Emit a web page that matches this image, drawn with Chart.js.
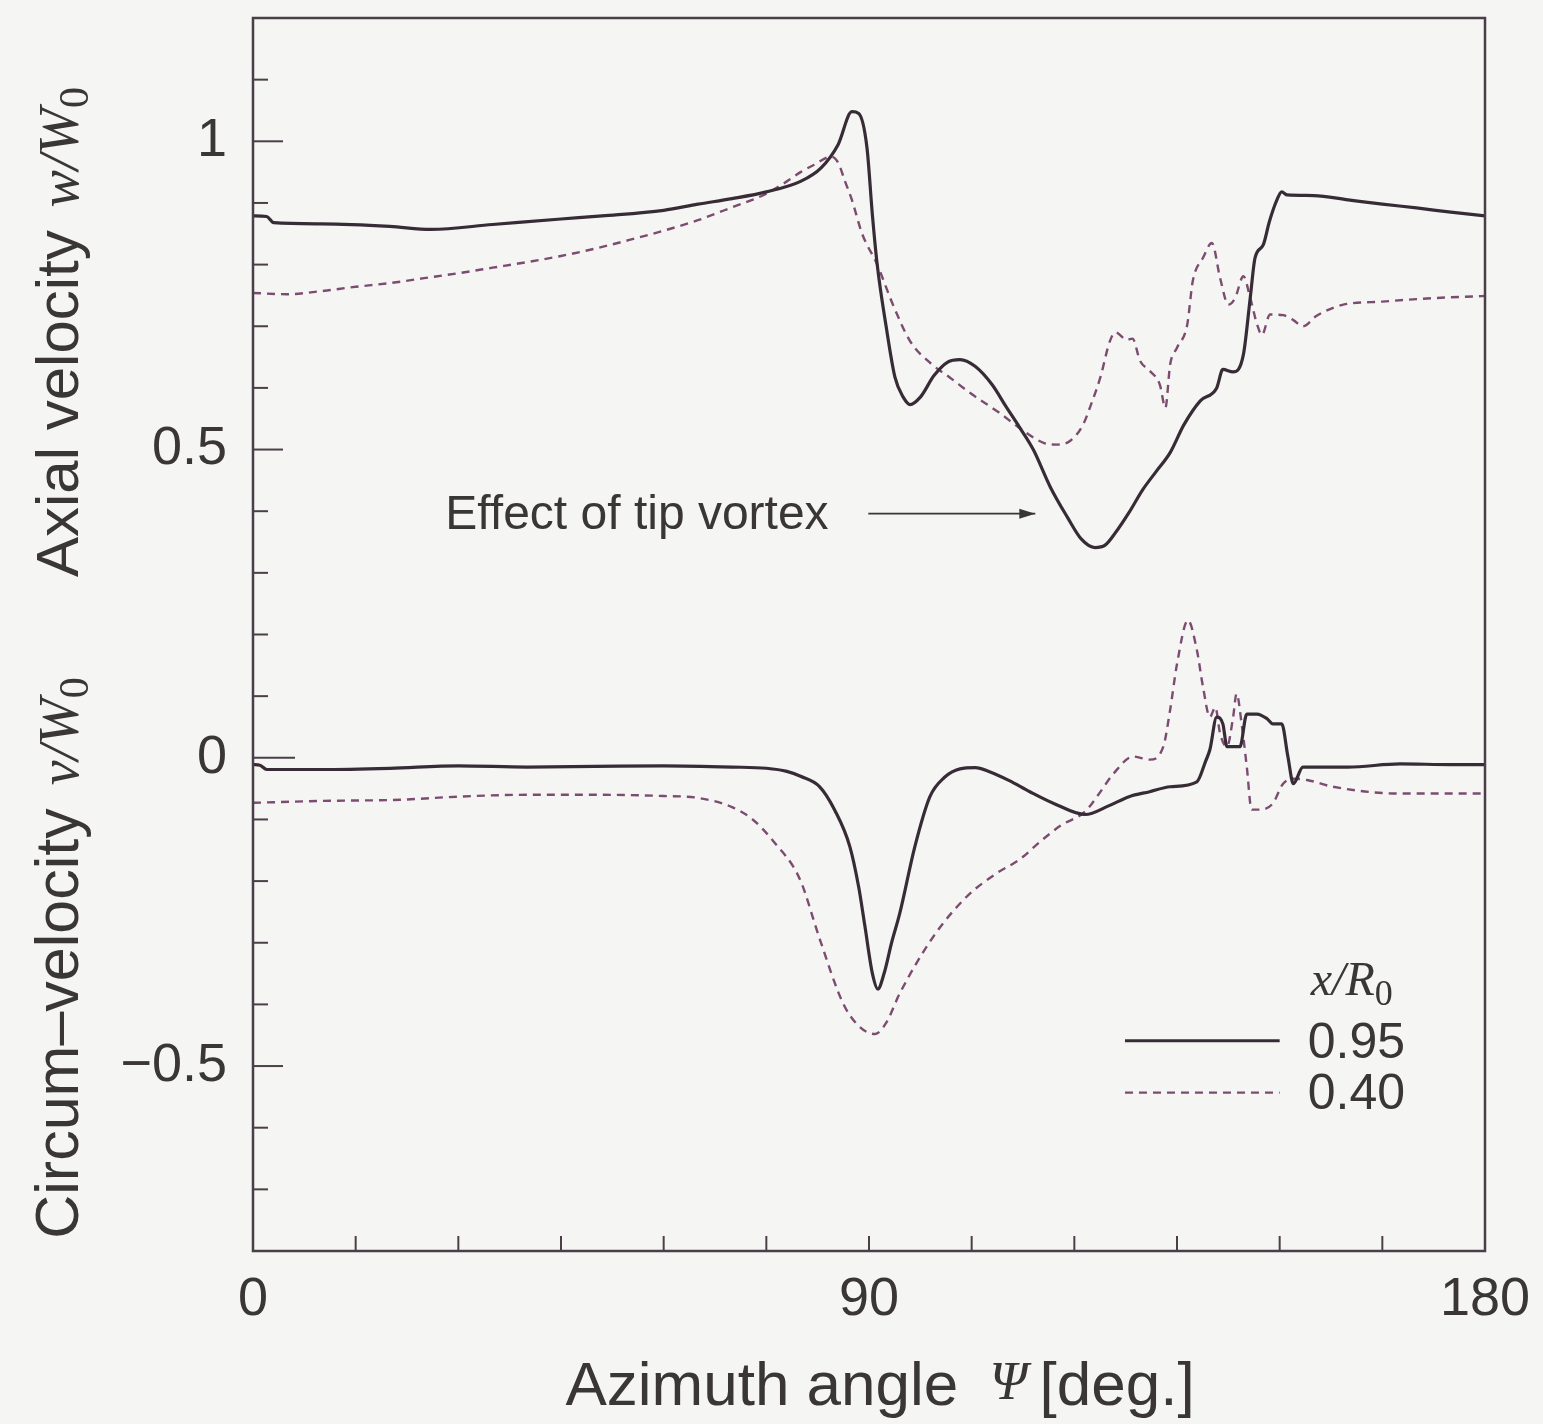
<!DOCTYPE html>
<html>
<head>
    <title>Axial and circumferential velocity vs azimuth</title>
    <script src="https://cdn.jsdelivr.net/npm/chart.js"></script>
    <style>
        html, body { margin: 0; padding: 0; background: #f5f5f3; }
        canvas { display: block; }
    </style>
</head>
<body>
    <canvas id="velChart" width="1543" height="1424"></canvas>

    <script>
        // x/R0 = 0.95 (solid) and 0.40 (dashed)
        const axialPsi95 = [0, 2, 3, 10, 20, 26, 35, 45, 51, 60, 65, 70, 75, 80, 83, 85.5, 87.5, 88.5, 89.7, 90.5, 91.2, 92.5, 93.8, 95, 96, 97.5, 99.5, 101.5, 103.3, 105.5, 108, 110, 112, 114, 116.5, 119, 121, 123, 124.5, 126, 128, 130, 132, 134, 136, 138.4, 140.8, 141.7, 143.2, 144.7, 145.7, 146.4, 147.6, 148.5, 149.6, 150.3, 151.1, 155, 160, 165, 170, 175, 180];
        const axial95 = [0.879, 0.878, 0.868, 0.866, 0.862, 0.857, 0.865, 0.874, 0.879, 0.888, 0.898, 0.907, 0.918, 0.935, 0.957, 0.995, 1.048, 1.045, 0.99, 0.88, 0.80, 0.70, 0.617, 0.585, 0.573, 0.585, 0.62, 0.642, 0.646, 0.635, 0.605, 0.57, 0.536, 0.50, 0.439, 0.39, 0.355, 0.341, 0.345, 0.365, 0.398, 0.435, 0.465, 0.495, 0.54, 0.579, 0.600, 0.630, 0.626, 0.654, 0.746, 0.811, 0.832, 0.87, 0.905, 0.918, 0.913, 0.912, 0.905, 0.898, 0.892, 0.885, 0.879];

        const axialPsi40 = [0, 5, 10, 15, 20, 25, 30, 35, 40, 45, 50, 55, 60, 65, 70, 75, 78, 80, 82, 84.5, 85.5, 86.5, 87.5, 89, 91.2, 93.5, 96, 99, 101.8, 105, 109, 112, 115.5, 117.5, 119.5, 121.3, 122.5, 123.8, 125.2, 126, 127.7, 128.5, 129.6, 131, 132.5, 133.3, 134, 135, 136.5, 137.3, 138.8, 140.1, 141.3, 142.5, 143.5, 144.7, 145.7, 146.7, 147.4, 148.6, 150.5, 152, 153.4, 155.4, 159.3, 165, 170, 175, 180];
        const axial40 = [0.754, 0.752, 0.757, 0.764, 0.770, 0.778, 0.786, 0.795, 0.804, 0.814, 0.826, 0.840, 0.855, 0.872, 0.893, 0.915, 0.935, 0.950, 0.962, 0.975, 0.965, 0.935, 0.905, 0.85, 0.80, 0.735, 0.676, 0.64, 0.617, 0.59, 0.56, 0.535, 0.511, 0.508, 0.515, 0.541, 0.575, 0.617, 0.676, 0.69, 0.678, 0.68, 0.644, 0.628, 0.605, 0.568, 0.638, 0.665, 0.703, 0.773, 0.811, 0.835, 0.778, 0.735, 0.746, 0.781, 0.746, 0.703, 0.686, 0.719, 0.718, 0.71, 0.700, 0.717, 0.735, 0.74, 0.744, 0.747, 0.749];

        const circPsi95 = [0, 1, 2, 10, 20, 30, 40, 50, 60, 70, 75, 78, 80, 82.8, 85, 87.2, 88.5, 89.4, 90.5, 91.3, 92.2, 93.3, 94.5, 96.7, 98.9, 101, 103.3, 105.5, 107.7, 110.5, 113.5, 117, 121.6, 125, 128, 131, 134, 137.9, 139.2, 139.8, 140.8, 141.7, 142.3, 144.2, 145.2, 146.7, 148.2, 149, 150.3, 151.2, 152, 153.4, 160, 167.6, 175, 180];
        const circ95 = [-0.011, -0.012, -0.019, -0.019, -0.017, -0.013, -0.015, -0.014, -0.013, -0.015, -0.017, -0.022, -0.03, -0.047, -0.085, -0.144, -0.21, -0.273, -0.35, -0.375, -0.35, -0.30, -0.252, -0.144, -0.063, -0.032, -0.018, -0.016, -0.023, -0.037, -0.055, -0.074, -0.092, -0.078, -0.063, -0.055, -0.047, -0.039, -0.005, 0.013, 0.066, 0.055, 0.018, 0.018, 0.071, 0.071, 0.063, 0.055, 0.055, 0.002, -0.042, -0.015, -0.015, -0.010, -0.011, -0.011];

        const circPsi40 = [0, 10, 21.5, 30, 40, 50, 60, 65, 70, 73, 76, 79.9, 82.8, 86.2, 88.5, 90.9, 92.5, 94.5, 99.4, 104.3, 108.7, 112, 115, 118, 121.6, 123.5, 125.7, 128.6, 131, 133, 134, 135, 136.6, 137.9, 138.8, 139.8, 140.6, 141.3, 142.3, 143.2, 143.7, 144.5, 145.2, 145.9, 147.1, 149, 150.5, 152, 154, 157.8, 167.6, 180];
        const circ40 = [-0.073, -0.070, -0.068, -0.063, -0.060, -0.060, -0.062, -0.065, -0.08, -0.10, -0.135, -0.197, -0.294, -0.398, -0.435, -0.448, -0.43, -0.382, -0.29, -0.225, -0.187, -0.165, -0.136, -0.11, -0.087, -0.06, -0.026, 0.002, -0.003, 0.018, 0.078, 0.152, 0.223, 0.175, 0.115, 0.066, 0.082, 0.039, 0.018, 0.066, 0.104, 0.05, -0.015, -0.084, -0.084, -0.074, -0.042, -0.034, -0.036, -0.047, -0.058, -0.058];

        const xLabelTicks = [0, 90, 180];
        const yLabelTicks = [1, 0.5, 0, -0.5];
        const legendLabels = ['0.95', '0.40'];

        const solidColor = '#372c35';
        const dashColor = '#7c4c70';
        const inkColor = '#3a3638';
        const frameColor = '#4a3f48';
        const sans = '"Liberation Sans", Arial, sans-serif';
        const serif = '"Liberation Serif", "DejaVu Serif", serif';

        function pts(xs, ys) {
            return xs.map((x, i) => ({ x: x, y: ys[i] }));
        }

        function near(v, list) {
            return list.some(t => Math.abs(v - t) < 1e-6);
        }

        // draws a run of differently styled text pieces, centred on (x, y)
        function drawRich(ctx, parts, x, y, angle) {
            ctx.save();
            ctx.translate(x, y);
            ctx.rotate(angle || 0);
            ctx.textBaseline = 'alphabetic';
            ctx.textAlign = 'left';
            let total = 0;
            parts.forEach(p => { ctx.font = p.font; total += ctx.measureText(p.t).width + (p.gap || 0); });
            let cx = -total / 2;
            parts.forEach(p => {
                ctx.font = p.font;
                ctx.fillStyle = inkColor;
                ctx.fillText(p.t, cx, p.dy || 0);
                cx += ctx.measureText(p.t).width + (p.gap || 0);
            });
            ctx.restore();
        }

        const decorations = {
            id: 'decorations',
            afterDraw(chart) {
                const c = chart.ctx;
                const a = chart.chartArea;
                const xs = chart.scales.x;
                const ys = chart.scales.y;

                c.save();
                // frame
                c.strokeStyle = frameColor;
                c.lineWidth = 2.5;
                c.strokeRect(a.left, a.top, a.right - a.left, a.bottom - a.top);

                // inward ticks
                c.lineWidth = 2;
                ys.ticks.forEach(t => {
                    const v = t.value;
                    if (near(v, [1.2, -0.8])) return;
                    let len = 15;
                    if (near(v, [0])) len = 42;
                    else if (near(v, yLabelTicks)) len = 30;
                    const py = ys.getPixelForValue(v);
                    c.beginPath();
                    c.moveTo(a.left, py);
                    c.lineTo(a.left + len, py);
                    c.stroke();
                });
                xs.ticks.forEach(t => {
                    if (near(t.value, [0, 180])) return;
                    const px = xs.getPixelForValue(t.value);
                    c.beginPath();
                    c.moveTo(px, a.bottom);
                    c.lineTo(px, a.bottom - 15);
                    c.stroke();
                });

                // annotation with arrow
                c.fillStyle = inkColor;
                c.font = '48px ' + sans;
                c.textAlign = 'center';
                c.textBaseline = 'middle';
                c.fillText('Effect of tip vortex', xs.getPixelForValue(56.1), ys.getPixelForValue(0.392));
                const ax0 = xs.getPixelForValue(89.9), ax1 = xs.getPixelForValue(114.3);
                const ay = ys.getPixelForValue(0.396);
                c.strokeStyle = inkColor;
                c.lineWidth = 1.6;
                c.beginPath();
                c.moveTo(ax0, ay);
                c.lineTo(ax1, ay);
                c.stroke();
                c.beginPath();
                c.moveTo(ax1, ay);
                c.lineTo(ax1 - 16, ay - 5);
                c.lineTo(ax1 - 16, ay + 5);
                c.closePath();
                c.fill();

                // legend
                const lx0 = xs.getPixelForValue(127.4), lx1 = xs.getPixelForValue(150.0);
                const tx = xs.getPixelForValue(154.1);
                drawRich(c, [
                    { t: 'x', font: 'italic 48px ' + serif },
                    { t: '/', font: 'italic 48px ' + serif },
                    { t: 'R', font: 'italic 48px ' + serif },
                    { t: '0', font: '36px ' + serif, dy: 10 }
                ], tx + 44, ys.getPixelForValue(-0.362) + 14, 0);
                const rows = [
                    { v: -0.459, color: solidColor, w: 3, dash: [] },
                    { v: -0.543, color: dashColor, w: 2.2, dash: [8, 6] }
                ];
                rows.forEach((r, i) => {
                    const py = ys.getPixelForValue(r.v);
                    c.strokeStyle = r.color;
                    c.lineWidth = r.w;
                    c.setLineDash(r.dash);
                    c.beginPath();
                    c.moveTo(lx0, py);
                    c.lineTo(lx1, py);
                    c.stroke();
                    c.setLineDash([]);
                    c.fillStyle = inkColor;
                    c.font = '50px ' + sans;
                    c.textAlign = 'left';
                    c.textBaseline = 'middle';
                    c.fillText(legendLabels[i], tx, py + 3);
                });

                // axis titles
                drawRich(c, [
                    { t: 'Azimuth angle ', font: '62px ' + sans, gap: 14 },
                    { t: 'Ψ', font: 'italic 54px ' + serif, dy: -6, gap: 12 },
                    { t: '[deg.]', font: '62px ' + sans }
                ], 880, 1405, 0);
                drawRich(c, [
                    { t: 'Axial velocity ', font: '60px ' + sans, gap: 6 },
                    { t: 'w', font: 'italic 56px ' + serif },
                    { t: '/', font: 'italic 56px ' + serif },
                    { t: 'W', font: 'italic 56px ' + serif },
                    { t: '0', font: '42px ' + serif, dy: 10 }
                ], 78, 332, -Math.PI / 2);
                drawRich(c, [
                    { t: 'Circum–velocity ', font: '61px ' + sans, gap: 6 },
                    { t: 'v', font: 'italic 56px ' + serif },
                    { t: '/', font: 'italic 56px ' + serif },
                    { t: 'W', font: 'italic 56px ' + serif },
                    { t: '0', font: '42px ' + serif, dy: 10 }
                ], 78, 958, -Math.PI / 2);
                c.restore();
            }
        };

        const ctx = document.getElementById('velChart').getContext('2d');
        const chart = new Chart(ctx, {
            type: 'line',
            data: {
                datasets: [
                    { label: 'w/W0 0.95', data: pts(axialPsi95, axial95), borderColor: solidColor, borderWidth: 3.2 },
                    { label: 'w/W0 0.40', data: pts(axialPsi40, axial40), borderColor: dashColor, borderWidth: 2.4, borderDash: [8, 6] },
                    { label: 'v/W0 0.95', data: pts(circPsi95, circ95), borderColor: solidColor, borderWidth: 3.2 },
                    { label: 'v/W0 0.40', data: pts(circPsi40, circ40), borderColor: dashColor, borderWidth: 2.4, borderDash: [8, 6] }
                ]
            },
            options: {
                responsive: false,
                animation: false,
                parsing: false,
                elements: {
                    point: { radius: 0 },
                    line: { cubicInterpolationMode: 'monotone', fill: false }
                },
                layout: { padding: { left: 0, top: 18, right: 58, bottom: 0 } },
                plugins: {
                    legend: { display: false },
                    tooltip: { enabled: false }
                },
                scales: {
                    x: {
                        type: 'linear',
                        min: 0,
                        max: 180,
                        grid: { display: false, drawTicks: false },
                        border: { display: false },
                        ticks: {
                            stepSize: 15,
                            autoSkip: false,
                            maxRotation: 0,
                            padding: 17,
                            color: inkColor,
                            font: { family: sans, size: 54 },
                            callback: v => near(v, xLabelTicks) ? String(v) : ''
                        },
                        afterFit(s) {
                            s.height = 173;
                            s.paddingLeft = 0;
                            s.paddingRight = 0;
                        }
                    },
                    y: {
                        type: 'linear',
                        min: -0.8,
                        max: 1.2,
                        grid: { display: false, drawTicks: false },
                        border: { display: false },
                        ticks: {
                            stepSize: 0.1,
                            autoSkip: false,
                            padding: 26,
                            color: inkColor,
                            font: { family: sans, size: 54 },
                            callback: v => {
                                if (!near(v, yLabelTicks)) return '';
                                if (Math.abs(v) < 1e-6) return '0';
                                return v < 0 ? '\u2212' + Math.abs(v) : String(v);
                            }
                        },
                        afterFit(s) {
                            s.width = 253;
                            s.paddingTop = 0;
                            s.paddingBottom = 0;
                        }
                    }
                }
            },
            plugins: [decorations]
        });
    </script>
</body>
</html>
